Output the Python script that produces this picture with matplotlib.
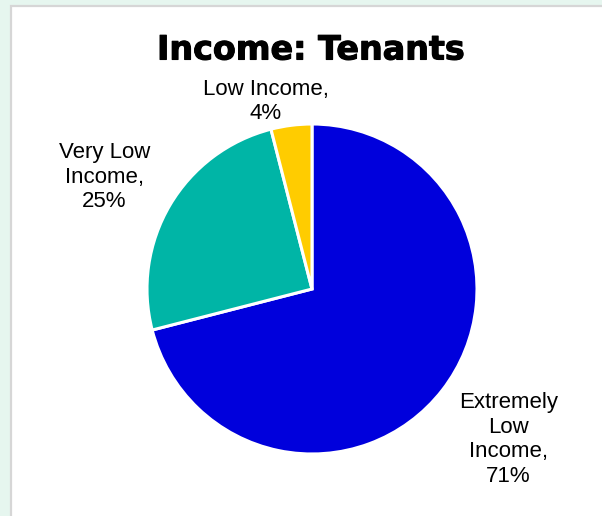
import numpy as np
import matplotlib.pyplot as plt
import matplotlib.patheffects as pe
from matplotlib.patches import Rectangle

# income share of tenants, clockwise from 12 o'clock
categories = ["Extremely\nLow\nIncome,", "Very Low\nIncome,", "Low Income,"]
shares = [71, 25, 4]
colors = ["#0000dc", "#00b5a6", "#ffcc00"]

# label placement: distance from centre (in radii) and angle nudge (deg)
label_dist = [1.50, 1.43, 1.17]
label_shift = [0.3, 2.3, 6.6]

W, H = 602, 516
fig = plt.figure(figsize=(W / 100, H / 100), dpi=100)
fig.patch.set_facecolor("#e6f6ef")

# white card with a grey edge, on its own background axes
bg = fig.add_axes([0, 0, 1, 1], zorder=-1)
bg.set_xlim(0, W)
bg.set_ylim(H, 0)
bg.axis("off")
bg.add_patch(Rectangle((11, 6), W, H, facecolor="white", edgecolor="#d6d6d6",
                       linewidth=1.6))

title = fig.text(311 / W, 1 - 50 / H, "Income: Tenants", ha="center", va="center",
                 fontsize=24, fontweight="bold", family="DejaVu Sans")
title.set_path_effects([pe.withStroke(linewidth=0.8, foreground="black")])

r_px = 165
cx, cy = 312, 289
ax = fig.add_axes([(cx - r_px) / W, 1 - (cy + r_px) / H, 2 * r_px / W, 2 * r_px / H])
ax.set_facecolor("none")

wedges, _ = ax.pie(shares, colors=colors, startangle=90, counterclock=False,
                   radius=1.0, wedgeprops=dict(edgecolor="white", linewidth=2.2))
ax.set_xlim(-1, 1)
ax.set_ylim(-1, 1)
ax.set_aspect("equal")
ax.axis("off")

for w, name, val, d, s in zip(wedges, categories, shares, label_dist, label_shift):
    mid = np.deg2rad((w.theta1 + w.theta2) / 2 + s)
    ax.text(d * np.cos(mid), d * np.sin(mid), f"{name}\n{val}%", ha="center",
            va="center", fontsize=16, family="Liberation Sans",
            linespacing=1.22, clip_on=False)

fig.savefig("out.png", dpi=100, facecolor=fig.get_facecolor())
